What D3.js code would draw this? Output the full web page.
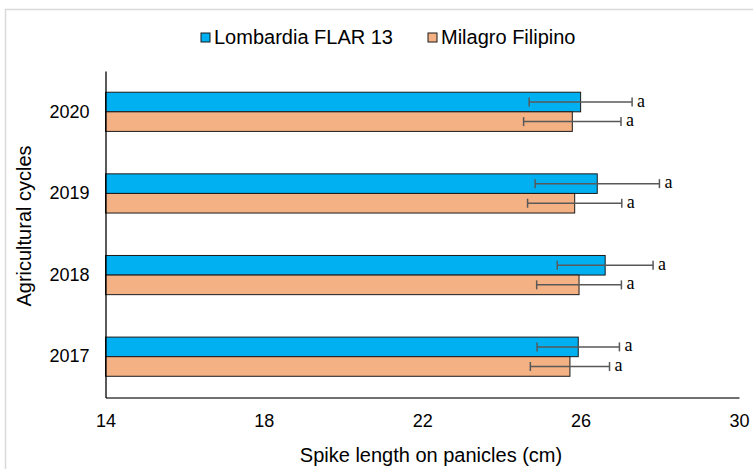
<!DOCTYPE html>
<html><head><meta charset="utf-8">
<script src="https://cdn.jsdelivr.net/npm/d3@7"></script>
<style>body{margin:0;background:#fff}svg{display:block}</style>
</head><body><svg id="c" width="753" height="469"></svg>
<script>
const cycles = ["2020", "2019", "2018", "2017"];
const seriesNames = ["Lombardia FLAR 13", "Milagro Filipino"];
const seriesColors = ["#00B0F0", "#F4B183"];
const lombardia = [26.0, 26.42, 26.62, 25.94];
const lombardiaErr = [1.3, 1.57, 1.21, 1.04];
const milagro = [25.79, 25.85, 25.96, 25.73];
const milagroErr = [1.23, 1.19, 1.07, 1.0];
const letters = [["a","a"],["a","a"],["a","a"],["a","a"]];
const xTicks = [14, 18, 22, 26, 30];

const svg = d3.select("#c");
const font = "'Liberation Sans', Arial, sans-serif";

svg.append("rect").attr("x", 5.5).attr("y", 9.5).attr("width", 760).attr("height", 470)
  .attr("fill", "#fff").attr("stroke", "#d9d9d9").attr("stroke-width", 1.5);

const x = d3.scaleLinear().domain([14, 30]).range([105.5, 739]);
const y = d3.scaleBand().domain(cycles).range([71, 397.5]).paddingInner(0.52).paddingOuter(0.26);
const ySub = d3.scaleBand().domain(seriesNames).range([0, y.bandwidth()]);

const rows = cycles.map((c, i) => ({c, i, vals: [
  {s: seriesNames[0], v: lombardia[i], e: lombardiaErr[i], col: seriesColors[0], l: letters[i][0]},
  {s: seriesNames[1], v: milagro[i], e: milagroErr[i], col: seriesColors[1], l: letters[i][1]}
]}));

const g = svg.selectAll("g.row").data(rows).join("g").attr("class", "row")
  .attr("transform", d => `translate(0,${y(d.c)})`);

g.selectAll("rect").data(d => d.vals).join("rect")
  .attr("x", x(14)).attr("y", d => ySub(d.s))
  .attr("width", d => x(d.v) - x(14)).attr("height", ySub.bandwidth())
  .attr("fill", d => d.col).attr("stroke", "#1a1a1a").attr("stroke-width", 1);

const eb = g.selectAll("g.err").data(d => d.vals).join("g").attr("class", "err")
  .attr("transform", d => `translate(0,${ySub(d.s) + ySub.bandwidth() / 2})`);
eb.append("line").attr("x1", d => x(d.v - d.e)).attr("x2", d => x(d.v + d.e))
  .attr("stroke", "#595959").attr("stroke-width", 1.5);
eb.append("line").attr("x1", d => x(d.v - d.e)).attr("x2", d => x(d.v - d.e))
  .attr("y1", -4.5).attr("y2", 4.5).attr("stroke", "#595959").attr("stroke-width", 1.5);
eb.append("line").attr("x1", d => x(d.v + d.e)).attr("x2", d => x(d.v + d.e))
  .attr("y1", -4.5).attr("y2", 4.5).attr("stroke", "#595959").attr("stroke-width", 1.5);
eb.append("text").attr("x", d => x(d.v + d.e) + 5).attr("y", 4.5)
  .attr("font-family", "'Liberation Serif', 'Times New Roman', serif").attr("font-size", 18)
  .attr("fill", "#000").text(d => d.l);

// axes
const xAxis = svg.append("g").attr("transform", "translate(0,397.5)")
  .call(d3.axisBottom(x).tickValues(xTicks).tickSize(0).tickPadding(17));
xAxis.select(".domain").attr("stroke", "#404040").attr("stroke-width", 1.3);
xAxis.selectAll("text").attr("font-family", font).attr("font-size", 18).attr("fill", "#000");

const yAxis = svg.append("g").attr("transform", "translate(105.5,0)")
  .call(d3.axisLeft(y).tickSize(0).tickPadding(16));
yAxis.select(".domain").attr("stroke", "#000").attr("stroke-width", 1.3);
yAxis.selectAll("text").attr("font-family", font).attr("font-size", 18).attr("fill", "#000");

svg.append("text").attr("x", 431).attr("y", 462).attr("text-anchor", "middle")
  .attr("font-family", font).attr("font-size", 20).attr("fill", "#000")
  .text("Spike length on panicles (cm)");
svg.append("text").attr("transform", "translate(31,226) rotate(-90)").attr("text-anchor", "middle")
  .attr("font-family", font).attr("font-size", 20).attr("fill", "#000")
  .text("Agricultural cycles");

// legend
const legX = [201, 428];
const leg = svg.selectAll("g.leg").data(seriesNames).join("g").attr("class", "leg")
  .attr("transform", (d, i) => `translate(${legX[i]},33)`);
leg.append("rect").attr("width", 9).attr("height", 9)
  .attr("fill", (d, i) => seriesColors[i]).attr("stroke", "#1a1a1a").attr("stroke-width", 1);
leg.append("text").attr("x", 13).attr("y", 10.5)
  .attr("font-family", font).attr("font-size", 20).attr("fill", "#000").text(d => d);
</script></body></html>
